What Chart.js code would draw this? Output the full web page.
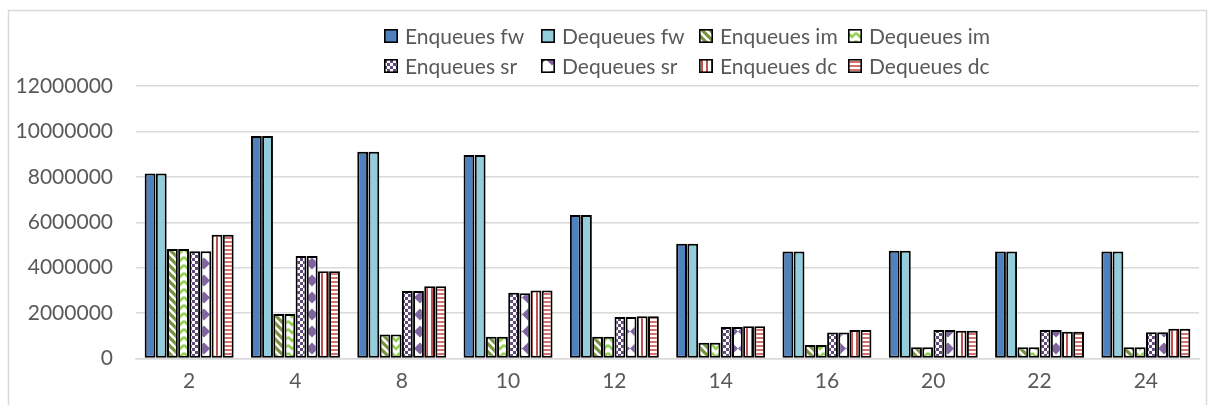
<!DOCTYPE html>
<html>
<head>
<meta charset="utf-8">
<script src="https://cdn.jsdelivr.net/npm/chart.js@4/dist/chart.umd.min.js"></script>
<style>
html,body{margin:0;padding:0;background:#fff;}
#wrap{width:1215px;height:405px;position:relative;}
</style>
</head>
<body>
<div id="wrap"><canvas id="c" width="1215" height="405"></canvas></div>
<script>
// ---- data ----
const categories = ['2','4','8','10','12','14','16','20','22','24'];
const seriesNames = ['Enqueues fw','Dequeues fw','Enqueues im','Dequeues im','Enqueues sr','Dequeues sr','Enqueues dc','Dequeues dc'];
const enqFw = [8150000, 9800000, 9110000, 8960000, 6320000, 5050000, 4710000, 4740000, 4710000, 4710000];
const deqFw = [8150000, 9800000, 9110000, 8960000, 6320000, 5050000, 4710000, 4740000, 4710000, 4710000];
const enqIm = [4820000, 1960000, 1060000, 960000, 960000, 690000, 590000, 490000, 490000, 490000];
const deqIm = [4820000, 1960000, 1060000, 960000, 960000, 690000, 590000, 490000, 490000, 490000];
const enqSr = [4720000, 4510000, 2970000, 2900000, 1830000, 1390000, 1150000, 1250000, 1250000, 1160000];
const deqSr = [4720000, 4510000, 2970000, 2870000, 1830000, 1390000, 1150000, 1250000, 1250000, 1160000];
const enqDc = [5450000, 3840000, 3180000, 2990000, 1860000, 1420000, 1260000, 1220000, 1180000, 1310000];
const deqDc = [5450000, 3840000, 3180000, 2990000, 1860000, 1420000, 1260000, 1220000, 1180000, 1310000];
const yTicks = [0, 2000000, 4000000, 6000000, 8000000, 10000000, 12000000];

// ---- patterns ----
function mk(w, h, draw) {
  const c = document.createElement('canvas');
  c.width = w; c.height = h;
  const g = c.getContext('2d');
  g.fillStyle = '#ffffff';
  g.fillRect(0, 0, w, h);
  draw(g, w, h);
  return g.createPattern(c, 'repeat');
}
const patDiag = mk(8, 8, (g) => {
  g.strokeStyle = '#77933C'; g.lineWidth = 3.2; g.lineCap = 'square';
  g.beginPath();
  g.moveTo(-2, -2); g.lineTo(10, 10);
  g.moveTo(-6, 2); g.lineTo(2, 10);
  g.moveTo(6, -2); g.lineTo(10, 2);
  g.stroke();
});
const patZig = mk(8, 8, (g) => {
  g.strokeStyle = '#92D050'; g.lineWidth = 2.6;
  g.beginPath();
  g.moveTo(0, 1); g.lineTo(4, 5); g.lineTo(8, 1);
  g.moveTo(0, 9); g.lineTo(4, 13); g.lineTo(8, 9);
  g.moveTo(0, -7); g.lineTo(4, -3); g.lineTo(8, -7);
  g.stroke();
});
const patChk = mk(6, 6, (g) => {
  g.fillStyle = '#604A7B';
  g.fillRect(0, 0, 3, 3);
  g.fillRect(3, 3, 3, 3);
});
const patDia = mk(12, 17, (g) => {
  g.fillStyle = '#8064A2';
  const d = (cx, cy) => { g.beginPath(); g.moveTo(cx - 6, cy); g.lineTo(cx, cy - 6); g.lineTo(cx + 6, cy); g.lineTo(cx, cy + 6); g.closePath(); g.fill(); };
  d(0, 8.5); d(12, 8.5);
});
const patVert = mk(5, 5, (g) => {
  g.fillStyle = '#C0504D';
  g.fillRect(1, 0, 2, 5);
});
const patHorz = mk(5, 4, (g) => {
  g.fillStyle = '#D2716E';
  g.fillRect(0, 1, 5, 2);
});

const fills = ['#4F81BD', '#92CDDC', patDiag, patZig, patChk, patDia, patVert, patHorz];
const values = [enqFw, deqFw, enqIm, deqIm, enqSr, deqSr, enqDc, deqDc];

const datasets = seriesNames.map((n, i) => ({
  label: n,
  data: values[i],
  backgroundColor: fills[i],
  borderColor: '#000000',
  borderWidth: 2,
  borderSkipped: false,
  categoryPercentage: 0.84,
  barPercentage: 0.97
}));

const FONT = 'Lato';
const TXT = '#595959';

const frame = {
  id: 'frame',
  beforeDraw(chart) {
    const ctx = chart.ctx;
    ctx.save();
    ctx.fillStyle = '#ffffff';
    ctx.fillRect(0, 0, chart.width, chart.height);
    ctx.strokeStyle = '#D9D9D9';
    ctx.lineWidth = 1.5;
    ctx.strokeRect(8.5, 10.5, 1198, 402);
    ctx.restore();
  }
};

const gridLegend = {
  id: 'gridLegend',
  afterDraw(chart) {
    const ctx = chart.ctx;
    const ds = chart.data.datasets;
    ctx.save();
    ctx.font = '21px ' + FONT;
    const cols = 4;
    const colX = [384, 541, 699, 848];
    const rowsBoxY = [29, 59];
    const rowsBase = [44, 74];
    for (let i = 0; i < ds.length; i++) {
      const r = Math.floor(i / cols), c = i % cols;
      const x = colX[c];
      const by = rowsBoxY[r];
      ctx.fillStyle = ds[i].backgroundColor;
      ctx.fillRect(x, by, 14, 14);
      ctx.strokeStyle = '#000';
      ctx.lineWidth = 1.6;
      ctx.strokeRect(x + 0.8, by + 0.8, 12.4, 12.4);
      ctx.fillStyle = TXT;
      ctx.textBaseline = 'alphabetic';
      ctx.textAlign = 'left';
      ctx.fillText(ds[i].label, x + 21, rowsBase[r]);
    }
    ctx.restore();
  }
};

new Chart(document.getElementById('c'), {
  type: 'bar',
  data: { labels: categories, datasets },
  plugins: [frame, gridLegend],
  options: {
    responsive: false,
    animation: false,
    layout: { padding: { left: 0, right: 16, top: 86, bottom: 0 } },
    plugins: { legend: { display: false }, tooltip: { enabled: false } },
    scales: {
      x: {
        grid: { display: false, drawTicks: false },
        border: { display: true, color: '#D9D9D9', width: 1.5 },
        ticks: { color: TXT, font: { family: FONT, size: 21 }, padding: 10, maxRotation: 0 },
        afterFit(s) { s.height = 46.5; }
      },
      y: {
        min: 0, max: 12000000,
        afterBuildTicks(s) { s.ticks = yTicks.map(v => ({ value: v })); },
        grid: { color: '#D9D9D9', lineWidth: 1.5, drawTicks: false },
        border: { display: false },
        ticks: { color: TXT, font: { family: FONT, size: 21 }, padding: 23, callback: v => String(v) },
        afterFit(s) { s.width = 136; }
      }
    }
  }
});
</script>
</body>
</html>
